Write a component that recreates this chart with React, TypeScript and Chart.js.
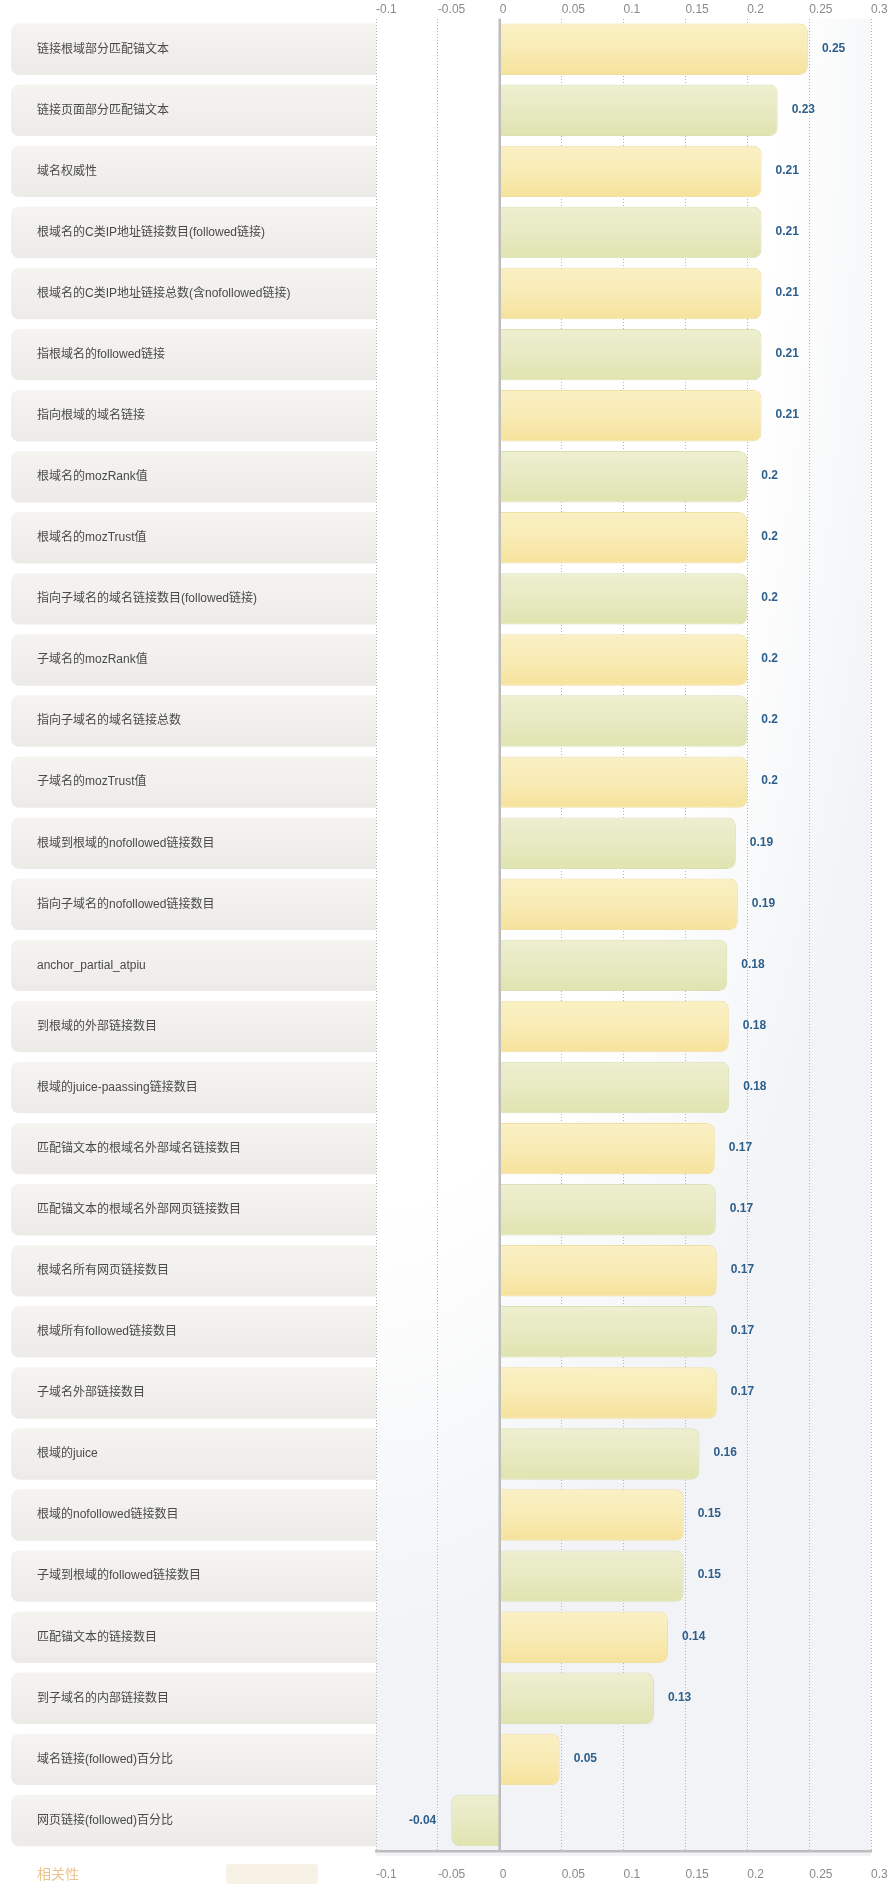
import React, { useEffect, useRef } from 'react';
import { Chart, registerables } from 'chart.js';

Chart.register(...registerables);

const categories = [
  '链接根域部分匹配锚文本',
  '链接页面部分匹配锚文本',
  '域名权威性',
  '根域名的C类IP地址链接数目(followed链接)',
  '根域名的C类IP地址链接总数(含nofollowed链接)',
  '指根域名的followed链接',
  '指向根域的域名链接',
  '根域名的mozRank值',
  '根域名的mozTrust值',
  '指向子域名的域名链接数目(followed链接)',
  '子域名的mozRank值',
  '指向子域名的域名链接总数',
  '子域名的mozTrust值',
  '根域到根域的nofollowed链接数目',
  '指向子域名的nofollowed链接数目',
  'anchor_partial_atpiu',
  '到根域的外部链接数目',
  '根域的juice-paassing链接数目',
  '匹配锚文本的根域名外部域名链接数目',
  '匹配锚文本的根域名外部网页链接数目',
  '根域名所有网页链接数目',
  '根域所有followed链接数目',
  '子域名外部链接数目',
  '根域的juice',
  '根域的nofollowed链接数目',
  '子域到根域的followed链接数目',
  '匹配锚文本的链接数目',
  '到子域名的内部链接数目',
  '域名链接(followed)百分比',
  '网页链接(followed)百分比',
];

const correlationValues = [
  0.249, 0.2246, 0.2116, 0.2116, 0.2116, 0.2116, 0.2116, 0.2, 0.2, 0.2,
  0.2, 0.2, 0.2, 0.1908, 0.1924, 0.1838, 0.1851, 0.1854, 0.1738, 0.1746,
  0.1754, 0.1754, 0.1754, 0.1614, 0.1486, 0.1486, 0.136, 0.1246, 0.0484, -0.0392,
];

const valueLabels = [
  '0.25', '0.23', '0.21', '0.21', '0.21', '0.21', '0.21', '0.2', '0.2', '0.2',
  '0.2', '0.2', '0.2', '0.19', '0.19', '0.18', '0.18', '0.18', '0.17', '0.17',
  '0.17', '0.17', '0.17', '0.16', '0.15', '0.15', '0.14', '0.13', '0.05', '-0.04',
];

const xTickValues = [-0.1, -0.05, 0, 0.05, 0.1, 0.15, 0.2, 0.25, 0.3];
const xTickLabels = ['-0.1', '-0.05', '0', '0.05', '0.1', '0.15', '0.2', '0.25', '0.3'];

const seriesName = '相关性';

const FONT = "'Liberation Sans', 'Noto Sans CJK SC', sans-serif";
const CJK_FONT = "'Noto Sans CJK SC', 'Liberation Sans', sans-serif";
const BAR_PCT = 0.842;

function roundedPath(ctx: CanvasRenderingContext2D, x: number, y: number, w: number, h: number, rl: number, rr: number) {
  ctx.beginPath();
  ctx.moveTo(x + rl, y);
  ctx.lineTo(x + w - rr, y);
  if (rr) ctx.arcTo(x + w, y, x + w, y + rr, rr); else ctx.lineTo(x + w, y);
  ctx.lineTo(x + w, y + h - rr);
  if (rr) ctx.arcTo(x + w, y + h, x + w - rr, y + h, rr); else ctx.lineTo(x + w, y + h);
  ctx.lineTo(x + rl, y + h);
  if (rl) ctx.arcTo(x, y + h, x, y + h - rl, rl); else ctx.lineTo(x, y + h);
  ctx.lineTo(x, y + rl);
  if (rl) ctx.arcTo(x, y, x + rl, y, rl); else ctx.lineTo(x, y);
  ctx.closePath();
}

function barFill(ctx: any) {
  const chart = ctx.chart;
  const yellow = ctx.dataIndex % 2 === 0;
  const top = yellow ? '#faf0c4' : '#edefcf';
  const bottom = yellow ? '#f6e29b' : '#dfe4af';
  const ys = chart.scales && chart.scales.y;
  if (!ys || !chart.chartArea || ctx.dataIndex === undefined) return top;
  const c = ys.getPixelForValue(ctx.dataIndex);
  const half = (ys.height / categories.length) * BAR_PCT / 2;
  const g = chart.ctx.createLinearGradient(0, c - half, 0, c + half);
  g.addColorStop(0, top);
  g.addColorStop(0.5, yellow ? '#f8ebb5' : '#e7eac2');
  g.addColorStop(1, bottom);
  return g;
}

const decorPlugin = {
  id: 'decor',
  beforeDraw(chart: any) {
    const { ctx, chartArea } = chart;
    const ys = chart.scales.y;
    if (!chartArea || !ys) return;
    const { left, top, right, bottom } = chartArea;
    const w = right - left;
    const h = bottom - top;
    // plot background (elliptical radial gradient)
    ctx.save();
    ctx.beginPath();
    ctx.rect(left, top, w, h + 5);
    ctx.clip();
    const rx = 560;
    const ry = 1650;
    ctx.translate(left, top);
    ctx.scale(1, ry / rx);
    const g = ctx.createRadialGradient(0, 0, 0, 0, 0, rx);
    g.addColorStop(0, '#ffffff');
    g.addColorStop(0.72, '#ffffff');
    g.addColorStop(0.86, '#f8f9fa');
    g.addColorStop(1, '#f2f3f6');
    ctx.fillStyle = g;
    ctx.fillRect(0, 0, w + 10, ((h + 10) * rx) / ry);
    ctx.restore();

    // category label boxes
    const catH = ys.height / categories.length;
    const bh = catH * BAR_PCT;
    ctx.save();
    categories.forEach((_, i) => {
      const c = ys.getPixelForValue(i);
      const y0 = c - bh / 2;
      const bg = ctx.createLinearGradient(0, y0, 0, y0 + bh);
      bg.addColorStop(0, '#f5f4f1');
      bg.addColorStop(1, '#edebe7');
      ctx.fillStyle = bg;
      roundedPath(ctx, 11, y0, left - 11, bh, 8, 0);
      ctx.fill();
    });
    ctx.restore();
  },
  afterDatasetsDraw(chart: any) {
    const { ctx, chartArea } = chart;
    const xs = chart.scales.x;
    if (!chartArea || !xs) return;
    // zero line
    const zx = xs.getPixelForValue(0);
    ctx.save();
    ctx.strokeStyle = '#bdbdbd';
    ctx.lineWidth = 2.5;
    ctx.beginPath();
    ctx.moveTo(zx, chartArea.top);
    ctx.lineTo(zx, chartArea.bottom);
    ctx.stroke();

    // value labels
    const meta = chart.getDatasetMeta(0);
    ctx.font = `bold 12px ${FONT}`;
    ctx.fillStyle = '#2e5f8c';
    ctx.textBaseline = 'middle';
    meta.data.forEach((el: any, i: number) => {
      const v = correlationValues[i];
      if (v >= 0) {
        ctx.textAlign = 'left';
        ctx.fillText(valueLabels[i], el.x + 14, el.y - 1);
      } else {
        ctx.textAlign = 'right';
        ctx.fillText(valueLabels[i], el.x - 15, el.y);
      }
    });
    ctx.restore();
  },
  afterDraw(chart: any) {
    const { ctx } = chart;
    ctx.save();
    // legend
    ctx.font = `14px ${CJK_FONT}`;
    ctx.fillStyle = '#ecc48e';
    ctx.textAlign = 'left';
    ctx.textBaseline = 'middle';
    ctx.fillText(seriesName, 37, 1874);
    ctx.fillStyle = '#f7f2e5';
    roundedPath(ctx, 226, 1864, 92, 20, 4, 4);
    ctx.fill();
    ctx.restore();
  },
};

const setTicks = (s: any) => {
  s.ticks = xTickValues.map((v) => ({ value: v }));
};
const tickCb = (value: any) => {
  const i = xTickValues.findIndex((v) => Math.abs(v - Number(value)) < 1e-9);
  return i >= 0 ? xTickLabels[i] : String(value);
};

export default function App() {
  const ref = useRef<HTMLCanvasElement | null>(null);
  useEffect(() => {
    if (!ref.current) return;
    const chart = new Chart(ref.current, {
      type: 'bar',
      data: {
        labels: categories,
        datasets: [
          {
            label: seriesName,
            data: correlationValues,
            backgroundColor: barFill as any,
            borderColor: ((c: any) => (c.dataIndex % 2 === 0 ? '#efdfa3' : '#dadfb4')) as any,
            borderWidth: 1,
            borderSkipped: 'start',
            borderRadius: 8,
            barPercentage: BAR_PCT,
            categoryPercentage: 1,
            xAxisID: 'x',
            yAxisID: 'y',
          },
        ],
      },
      options: {
        indexAxis: 'y',
        animation: false,
        responsive: false,
        maintainAspectRatio: false,
        layout: { padding: { left: 37, right: 18, top: 0, bottom: 0 } },
        plugins: {
          legend: { display: false },
          tooltip: { enabled: false },
        },
        scales: {
          x: {
            type: 'linear',
            position: 'top',
            min: -0.1,
            max: 0.3,
            afterBuildTicks: setTicks,
            afterFit: (s: any) => {
              s.height = 18.66;
              s.paddingLeft = 0;
              s.paddingRight = 0;
            },
            grid: {
              color: ((c: any) => (c.tick && Math.abs(c.tick.value) < 1e-9 ? 'rgba(0,0,0,0)' : '#b3b3b3')) as any,
              lineWidth: 1,
              drawTicks: false,
            },
            border: { display: false, dash: [1, 2] },
            ticks: {
              align: 'start',
              padding: 1.5,
              color: '#8a8a8a',
              font: { family: FONT, size: 12 },
              maxRotation: 0,
              autoSkip: false,
              callback: tickCb,
            },
          },
          x2: {
            type: 'linear',
            position: 'bottom',
            min: -0.1,
            max: 0.3,
            afterBuildTicks: setTicks,
            afterFit: (s: any) => {
              s.height = 40;
              s.paddingLeft = 0;
              s.paddingRight = 0;
            },
            grid: { display: false, drawTicks: false },
            border: { display: true, color: '#bdbdbd', width: 2.5 },
            ticks: {
              align: 'start',
              padding: 16,
              color: '#8a8a8a',
              font: { family: FONT, size: 12 },
              maxRotation: 0,
              autoSkip: false,
              callback: tickCb,
            },
          },
          y: {
            type: 'category',
            position: 'left',
            afterFit: (s: any) => {
              s.width = 339;
              s.paddingTop = 0;
              s.paddingBottom = 0;
            },
            grid: { display: false, drawTicks: false },
            border: { display: false },
            ticks: {
              crossAlign: 'far',
              padding: 0,
              color: '#4a4a4a',
              font: { family: FONT, size: 12 },
              autoSkip: false,
            },
          },
        },
      } as any,
      plugins: [decorPlugin],
    });
    return () => chart.destroy();
  }, []);

  return (
    <div style={{ position: 'absolute', left: 0, top: 0, width: 889, height: 1891, background: '#ffffff' }}>
      <canvas ref={ref} width={889} height={1891} style={{ display: 'block', width: 889, height: 1891 }} />
    </div>
  );
}
